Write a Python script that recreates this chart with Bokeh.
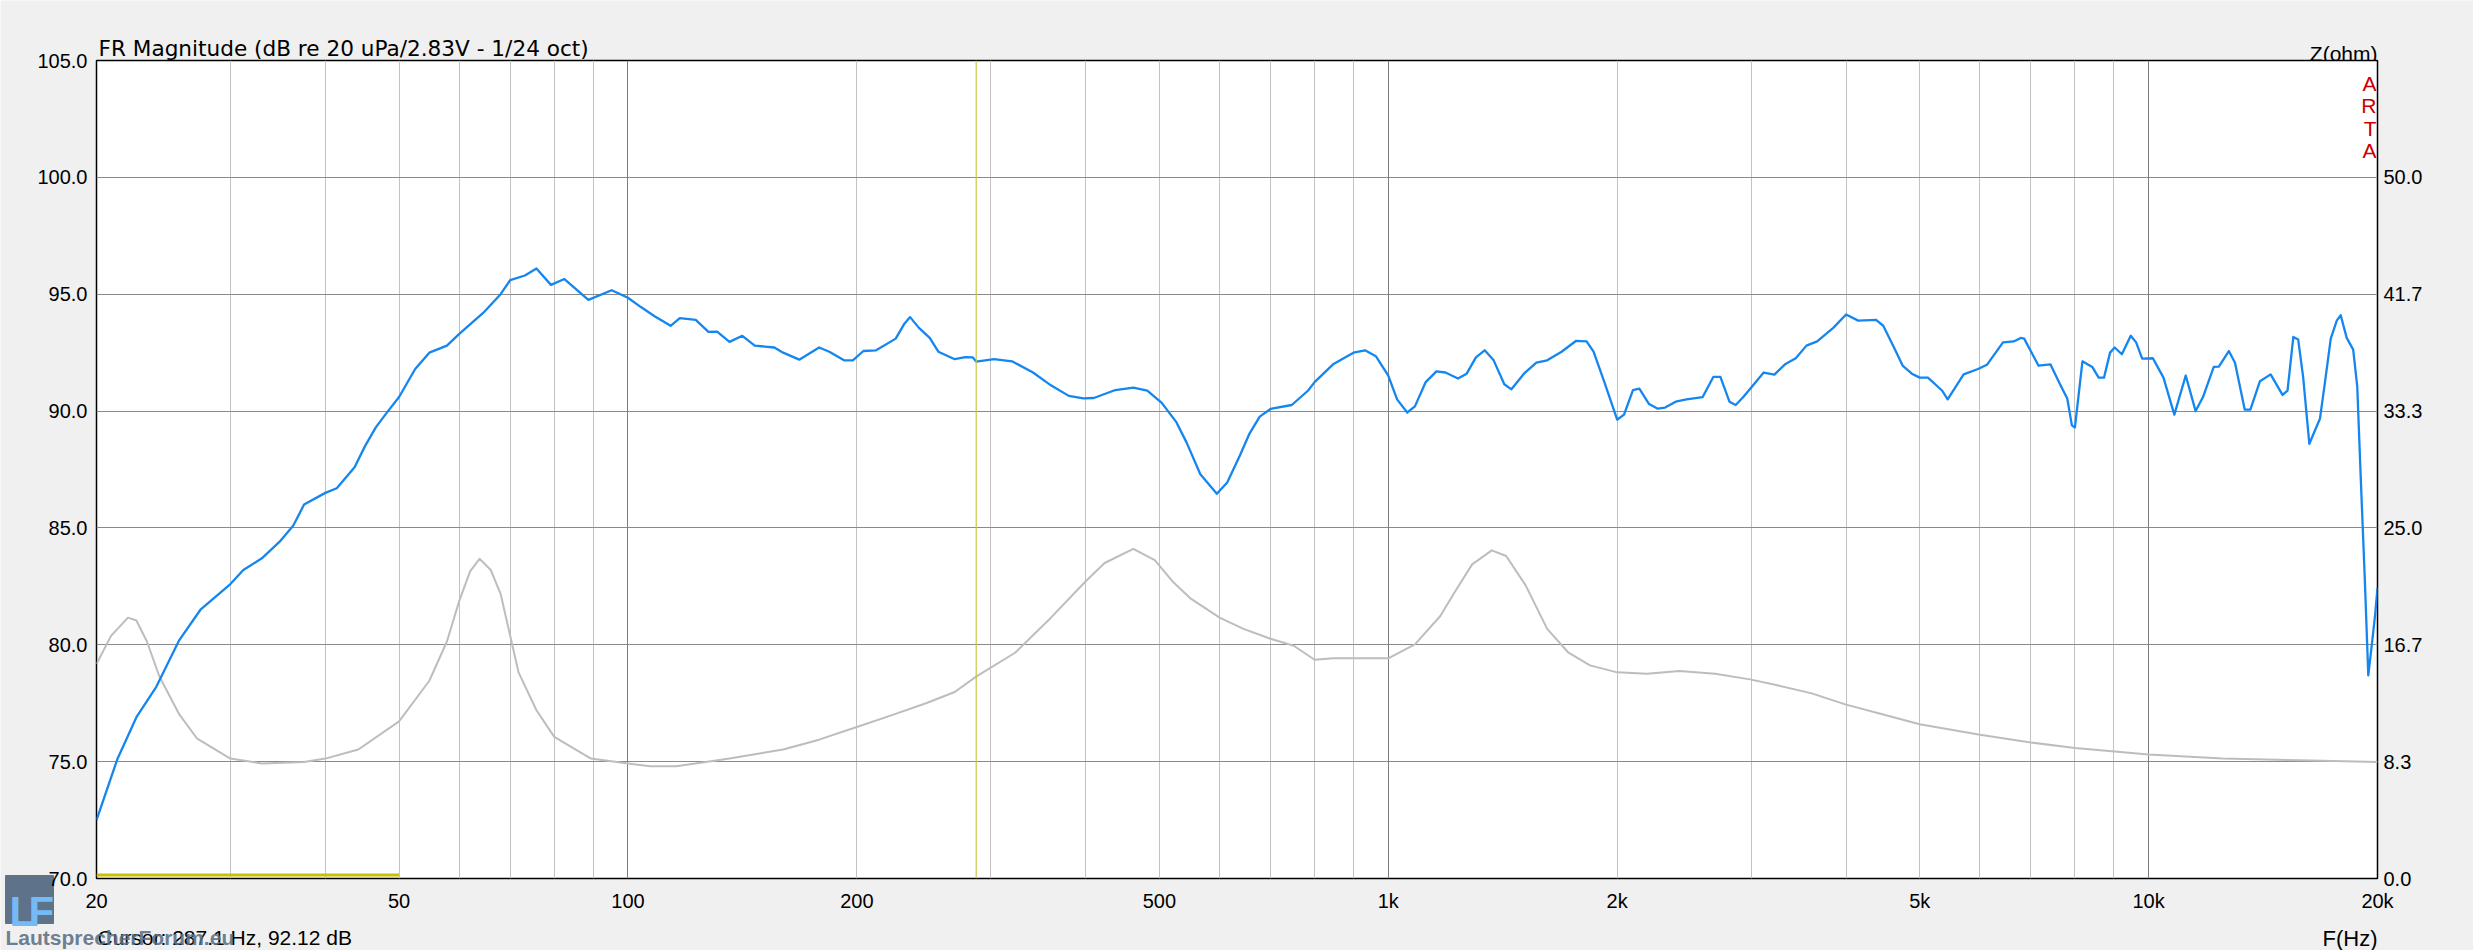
from bokeh.plotting import figure
from bokeh.models import (Range1d, LinearAxis, FixedTicker, PrintfTickFormatter,
                          Grid, Span, Label)
from bokeh.embed import file_html
from bokeh.resources import INLINE

# ---------------- data ----------------
fr_freq = [20, 21.3, 22.57, 23.97, 25.7, 27.4, 30, 31.2, 33.0, 34.8, 36.3, 37.5, 40, 41.4,
           43.7, 45.1, 46.6, 48.1, 50, 52.5, 54.8, 57.8, 60, 64.5, 68, 70, 73.2, 75.8,
           79.2, 82.5, 88.7, 95.2, 100, 104, 108.4, 113.8, 117, 122.8, 127.6, 131, 136,
           141.4, 146.8, 155.8, 160, 168, 178.4, 184, 192.4, 197.6, 204, 212, 225, 231,
           235, 241.4, 249.4, 256, 269, 277.8, 284, 287.1, 303, 320, 341, 360, 380, 397,
           410, 437.6, 462, 482, 503.6, 526, 543, 566, 595, 614, 638, 656, 677.5, 700,
           746.5, 784, 800, 846, 900, 932, 963, 1000, 1027, 1059, 1084, 1120, 1157, 1189,
           1235, 1268, 1304, 1339, 1376, 1421, 1452, 1508, 1566, 1618, 1690, 1765, 1823,
           1862, 1924, 2000, 2042, 2098, 2139, 2203, 2262, 2312, 2388, 2467, 2591, 2676,
           2734, 2810, 2864, 2930, 3000, 3117, 3220, 3325, 3435, 3548, 3665, 3848, 4000,
           4150, 4381, 4477, 4625, 4751, 4882, 5000, 5126, 5353, 5441, 5711, 5965, 6128,
           6434, 6645, 6790, 6860, 7166, 7427, 7647, 7816, 7927, 8000, 8184, 8430, 8596,
           8736, 8898, 9024, 9221, 9473, 9629, 9807, 10130, 10460, 10810, 11190, 11530,
           11790, 12180, 12370, 12750, 12990, 13380, 13610, 14010, 14470, 15000, 15230,
           15500, 15730, 15970, 16270, 16800, 17060, 17360, 17680, 17890, 18220, 18580,
           18810, 19000, 19250, 19450, 19650, 19850, 20000]
fr_db = [72.5, 75.1, 76.9, 78.2, 80.2, 81.5, 82.6, 83.2, 83.7, 84.4, 85.1, 86.0, 86.5, 86.7,
         87.6, 88.5, 89.3, 89.9, 90.6, 91.8, 92.5, 92.8, 93.3, 94.2, 95.0, 95.6, 95.8, 96.1,
         95.4, 95.65, 94.76, 95.17, 94.85, 94.45, 94.06, 93.65, 93.98, 93.9, 93.39, 93.4, 92.96,
         93.22, 92.8, 92.72, 92.5, 92.2, 92.72, 92.54, 92.17, 92.17, 92.57, 92.6, 93.1, 93.74,
         94.02, 93.56, 93.13, 92.54, 92.22, 92.31, 92.3, 92.12, 92.22, 92.13, 91.65, 91.1, 90.65, 90.54,
         90.56, 90.9, 91.0, 90.87, 90.35, 89.54, 88.65, 87.3, 86.46, 86.94, 88.1, 89.0, 89.76, 90.09,
         90.26, 90.87, 91.24, 92.0, 92.5, 92.6, 92.35, 91.52, 90.5, 89.94, 90.2, 91.24, 91.7, 91.65,
         91.39, 91.6, 92.3, 92.6, 92.17, 91.15, 90.93, 91.6, 92.07, 92.17, 92.54, 93.0, 92.98,
         92.54, 91.24, 89.63, 89.85, 90.9, 90.96, 90.3, 90.1, 90.15, 90.4, 90.5, 90.6, 91.46,
         91.46, 90.4, 90.26, 90.6, 91.0, 91.65, 91.56, 92.0, 92.26, 92.8, 92.98, 93.56, 94.13,
         93.87, 93.9, 93.65, 92.72, 91.93, 91.6, 91.43, 91.43, 90.87, 90.5, 91.57, 91.8, 91.98,
         92.94, 92.98, 93.13, 93.1, 91.94, 92.0, 91.15, 90.54, 89.39, 89.3, 92.13, 91.89, 91.43,
         91.43, 92.5, 92.72, 92.43, 93.22, 92.94, 92.24, 92.26, 91.43, 89.85, 91.52, 90.0,
         90.6, 91.89, 91.9, 92.57, 92.07, 90.06, 90.06, 91.28, 91.57, 90.69, 90.87,
         93.17, 93.06, 91.43, 88.6, 89.67, 91.24, 93.1, 93.87, 94.1, 93.13, 92.63,
         91.06, 87.35, 82.72, 78.69, 79.95, 81.24, 82.44]

z_freq = [20, 20.9, 22.0, 22.57, 23.3, 24.2, 25.7, 27.1, 30, 33, 37.5, 40, 44.2, 50, 54.8, 57.8,
          60, 62, 63.8, 66, 68, 71.8, 75.8, 80, 89.4, 100, 106.9, 115.7, 136, 160, 178.4, 200,
          221, 246.6, 269, 287, 323, 360, 400, 423.6, 462, 493, 520, 548.6, 600, 645, 700,
          751, 800, 846, 900, 1000, 1084, 1170, 1222, 1289, 1368, 1429, 1516, 1618, 1726,
          1842, 2000, 2190, 2414, 2690, 2990, 3237, 3606, 4000, 4477, 5000, 6000, 7000,
          8000, 10000, 12510, 15830, 20000]
z_ohm = [15.3, 17.3, 18.6, 18.4, 16.9, 14.4, 11.7, 10.0, 8.55, 8.2, 8.3, 8.55, 9.2, 11.2, 14.1, 16.9,
         19.8, 21.9, 22.8, 22.0, 20.3, 14.7, 12.0, 10.1, 8.55, 8.2, 8.0, 8.0, 8.55, 9.2, 9.9, 10.8,
         11.6, 12.5, 13.3, 14.4, 16.1, 18.6, 21.2, 22.5, 23.5, 22.7, 21.2, 20.0, 18.6, 17.8, 17.1,
         16.6, 15.6, 15.7, 15.7, 15.7, 16.7, 18.7, 20.4, 22.4, 23.4, 23.0, 20.9, 17.8, 16.1,
         15.2, 14.7, 14.6, 14.8, 14.6, 14.2, 13.8, 13.2, 12.4, 11.7, 11.0, 10.25, 9.7,
         9.3, 8.85, 8.55, 8.43, 8.3]

x_ticks = [20, 50, 100, 200, 500, 1000, 2000, 5000, 10000, 20000]
x_tick_labels = ["20", "50", "100", "200", "500", "1k", "2k", "5k", "10k", "20k"]
x_minor_grid = [30, 40, 50, 60, 70, 80, 90, 200, 300, 400, 500, 600, 700, 800, 900,
                2000, 3000, 4000, 5000, 6000, 7000, 8000, 9000]
x_major_grid = [100, 1000, 10000]
db_ticks = [70, 75, 80, 85, 90, 95, 100, 105]
z_ticks = [0.0, 8.3333, 16.6667, 25.0, 33.3333, 41.6667, 50.0]
z_range_max = 58.3333

cursor_freq = 287.1
cursor_text = "Cursor: 287.1 Hz, 92.12 dB"
range_marker_freq = [20, 50]
range_marker_db = [70.15, 70.15]
title_text = "FR Magnitude (dB re 20 uPa/2.83V - 1/24 oct)"
arta_letters = ["A", "R", "T", "A"]
watermark_text = "LautsprecherForum.eu"

FONT = "Liberation Sans"
FS = "20px"
W, H = 2473, 950

# ---------------- background canvas: outer texts and logo ----------------
bg = figure(width=W, height=H, x_range=Range1d(0, W), y_range=Range1d(H, 0),
            x_axis_location=None, y_axis_location=None, min_border=0,
            min_border_left=0, min_border_right=0, min_border_top=0, min_border_bottom=0,
            toolbar_location=None, output_backend="svg",
            background_fill_color="#F0F0F0", border_fill_color="#F0F0F0",
            outline_line_color=None)
bg.grid.visible = False

# logo box
bg.quad(left=[5], right=[53], top=[875], bottom=[923], fill_color="#5E7289",
        line_color="#5E7289")
for ch, lx in zip(["L", "F"], [9, 28]):
    bg.add_layout(Label(x=lx, y=911, text=ch, text_font=FONT, text_font_size="42px",
                        text_font_style="bold", text_color="#74BAF7",
                        text_baseline="alphabetic", text_align="left"))

bg.add_layout(Label(x=98, y=48, text=title_text, text_font="DejaVu Sans",
                    text_font_size="21.6px", text_color="black",
                    text_baseline="alphabetic", text_align="left"))
bg.add_layout(Label(x=2377, y=53, text="Z(ohm)", text_font=FONT, text_font_size="21px",
                    text_color="black", text_baseline="alphabetic", text_align="right"))
bg.add_layout(Label(x=2377, y=938, text="F(Hz)", text_font=FONT, text_font_size="22px",
                    text_color="black", text_baseline="alphabetic", text_align="right"))
bg.add_layout(Label(x=97, y=937, text=cursor_text, text_font=FONT, text_font_size="21px",
                    text_color="black", text_baseline="alphabetic", text_align="left"))
bg.add_layout(Label(x=5, y=937, text=watermark_text, text_font=FONT, text_font_size="21px",
                    text_font_style="bold", text_color="#5B6F86", text_alpha=0.9,
                    text_baseline="alphabetic", text_align="left"))

# ---------------- main chart (overlaid on top) ----------------
p = figure(width=W, height=H, x_axis_type="log",
           x_range=Range1d(20, 20000), y_range=Range1d(70, 105),
           output_backend="svg", toolbar_location=None,
           min_border_left=96, min_border_right=96, min_border_top=60, min_border_bottom=72,
           background_fill_color="white", border_fill_color="#F0F0F0", border_fill_alpha=0,
           outline_line_color="black", outline_line_width=1.5)
p.extra_y_ranges = {"z": Range1d(0, z_range_max)}
p.styles = {"position": "absolute", "top": "0px", "left": "0px"}

xa = p.below[0]
xa.ticker = FixedTicker(ticks=x_ticks)
xa.major_label_overrides = {t: l for t, l in zip(x_ticks, x_tick_labels)}
ya = p.left[0]
ya.ticker = FixedTicker(ticks=db_ticks)
ya.formatter = PrintfTickFormatter(format="%.1f")
za = LinearAxis(y_range_name="z", ticker=FixedTicker(ticks=z_ticks),
                formatter=PrintfTickFormatter(format="%.1f"))
p.add_layout(za, "right")

for ax, so in ((xa, 11), (ya, 9), (za, 6)):
    ax.axis_line_color = None
    ax.major_tick_line_color = None
    ax.minor_tick_line_color = None
    ax.major_tick_out = 0
    ax.major_tick_in = 0
    ax.major_label_standoff = so
    ax.major_label_text_font = FONT
    ax.major_label_text_font_size = FS
    ax.major_label_text_color = "black"

# grids
p.xgrid[0].ticker = FixedTicker(ticks=x_minor_grid)
p.xgrid.grid_line_color = "#C2C2C2"
p.xgrid.grid_line_width = 1
p.ygrid.grid_line_color = "#8A8A8A"
p.ygrid.grid_line_width = 1
p.add_layout(Grid(dimension=0, ticker=FixedTicker(ticks=x_major_grid),
                  grid_line_color="#7E7E7E", grid_line_width=1))

# curves
p.line(z_freq, z_ohm, y_range_name="z", line_color="#BDBDBD", line_width=2,
       line_join="round")
p.line(range_marker_freq, range_marker_db, line_color="#C8C000", line_width=3)
p.add_layout(Span(location=cursor_freq, dimension="height",
                  line_color="#C8C84A", line_width=1.2))
p.line(fr_freq, fr_db, line_color="#1586F0", line_width=2.3, line_join="round")

for i, ch in enumerate(arta_letters):
    p.add_layout(Label(x=20000, y=105, x_offset=-1, y_offset=-23 - 22.4 * i, text=ch,
                       text_font=FONT, text_font_size="21px", text_color="#CC0000",
                       text_baseline="alphabetic", text_align="right"))

open("out.html", "w").write(file_html([bg, p], INLINE))
